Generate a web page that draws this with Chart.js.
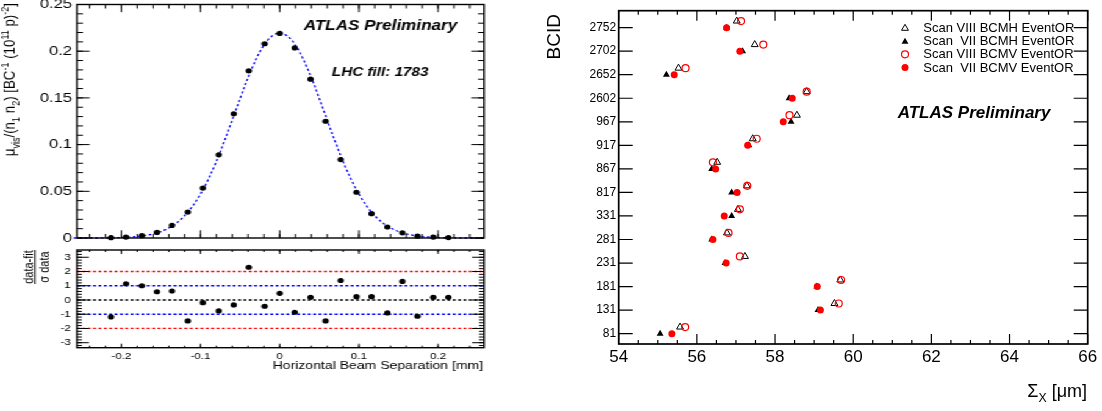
<!DOCTYPE html>
<html>
<head>
<meta charset="utf-8">
<script src="https://cdn.jsdelivr.net/npm/chart.js@4.4.0/dist/chart.umd.min.js"></script>
<style>
body { margin:0; background:#fff; width:1102px; height:411px; overflow:hidden; position:relative; }
#leftPad { position:absolute; left:0; top:0; width:411px; height:411px; transform:scaleX(1.22); transform-origin:0 0; }
canvas { position:absolute; display:block; }
</style>
</head>
<body>
<div id="leftPad">
  <canvas id="scanChart" width="411" height="245" style="left:0;top:0;width:411px;height:245px"></canvas>
  <canvas id="pullChart" width="411" height="166" style="left:0;top:245px;width:411px;height:166px"></canvas>
</div>
<canvas id="bcidChart" width="562" height="411" style="left:540px;top:0;width:562px;height:411px"></canvas>
<script>
// ---- scan curve (left) ----
var sepX  = [-0.213,-0.194,-0.174,-0.155,-0.136,-0.116,-0.097,-0.077,-0.058,-0.039,-0.019,0,
             0.019,0.039,0.058,0.077,0.097,0.116,0.136,0.155,0.174,0.194,0.213];
var muVis = [0.0003,0.001,0.0025,0.006,0.0135,0.0278,0.0535,0.089,0.133,0.179,0.208,0.219,
             0.2035,0.170,0.125,0.084,0.049,0.026,0.0118,0.0055,0.002,0.001,0.0005];
var pull  = [-1.19,1.14,1.0,0.58,0.63,-1.47,-0.19,-0.77,-0.35,2.30,-0.44,0.47,
             -0.86,0.19,-1.47,1.37,0.23,0.23,-0.91,1.30,-1.14,0.19,0.19];
// fit curve
var fitX = [-0.26,-0.24,-0.22,-0.20,-0.18,-0.16,-0.15,-0.14,-0.13,-0.12,-0.11,-0.10,-0.09,-0.08,-0.07,-0.06,-0.05,-0.04,-0.03,-0.02,-0.01,
            0,0.01,0.02,0.03,0.04,0.05,0.06,0.07,0.08,0.09,0.10,0.11,0.12,0.13,0.14,0.15,0.16,0.18,0.20,0.22,0.24,0.26];
var fitY = [0,0,0.0001,0.0005,0.0015,0.0043,0.0069,0.0108,0.0163,0.0239,0.0341,0.0471,0.0631,0.0820,0.1033,0.1262,0.1494,0.1716,0.1911,0.2064,0.2161,
            0.2195,0.2161,0.2064,0.1911,0.1716,0.1494,0.1262,0.1033,0.0820,0.0631,0.0471,0.0341,0.0239,0.0163,0.0108,0.0069,0.0043,0.0015,0.0005,0.0001,0,0];
var sepTicks  = [-0.2,-0.1,0,0.1,0.2];
var muTicks   = [0,0.05,0.1,0.15,0.2,0.25];
var pullTicks = [-3,-2,-1,0,1,2,3];
var pullLines = [2,1,0,-1,-2];

// ---- BCID widths (right) ----
var bcid   = ['81','131','181','231','281','331','817','867','917','967','2602','2652','2702','2752'];
var scan8H = [55.57,59.52,59.67,57.23,56.77,57.05,57.28,56.52,57.43,58.56,58.81,55.53,57.48,57.02];
var scan7H = [55.06,59.10,59.07,56.72,56.38,56.89,56.89,56.38,57.33,58.41,58.36,55.22,57.17,56.76];
var scan8V = [55.70,59.63,59.69,57.10,56.81,57.10,57.29,56.41,57.53,58.37,58.81,55.71,57.70,57.13];
var scan7V = [55.36,59.16,59.08,56.75,56.41,56.70,57.03,56.48,57.30,58.21,58.44,55.42,57.10,56.76];
var sigmaTicks = [54,56,58,60,62,64,66];
var legendNames = ['Scan VIII BCMH EventOR','Scan  VII BCMH EventOR','Scan VIII BCMV EventOR','Scan  VII BCMV EventOR'];

var FONT = '"Liberation Sans", Arial, Helvetica, sans-serif';
Chart.defaults.font.family = FONT;
Chart.defaults.color = '#000';

function steps(a, b, st) {  // tick mark positions
  var out = [];
  for (var v = a; v <= b + 1e-9; v += st) out.push(Math.round(v * 1000) / 1000);
  return out;
}
function noPad(s) { s.paddingLeft = 0; s.paddingRight = 0; s.paddingTop = 0; s.paddingBottom = 0; }

// ROOT-like frame with ticks pointing inwards
function frameTicks(c) {
  return {
    id: 'frameTicks',
    afterDatasetsDraw: function(chart) {
      var ctx = chart.ctx, a = chart.chartArea, xs = chart.scales.x, ys = chart.scales.y;
      ctx.save();
      ctx.strokeStyle = '#000';
      ctx.lineWidth = c.tickWidth;
      ctx.beginPath();
      function xt(list, len) {
        list.forEach(function(v) {
          var p = xs.getPixelForValue(v);
          ctx.moveTo(p, a.bottom); ctx.lineTo(p, a.bottom - len);
          ctx.moveTo(p, a.top); ctx.lineTo(p, a.top + len);
        });
      }
      function yt(list, len) {
        list.forEach(function(v) {
          var p = ys.getPixelForValue(v);
          ctx.moveTo(a.left, p); ctx.lineTo(a.left + len, p);
          ctx.moveTo(a.right, p); ctx.lineTo(a.right - len, p);
        });
      }
      xt(c.xMinor, c.xMinorLen); xt(c.xMajor, c.xMajorLen);
      yt(c.yMinor, c.yMinorLen); yt(c.yMajor, c.yMajorLen);
      ctx.stroke();
      ctx.lineWidth = c.frameWidth;
      ctx.strokeRect(a.left, a.top, a.right - a.left, a.bottom - a.top);
      ctx.restore();
    }
  };
}

// text with sub/superscripts: parts = [[text, 0 normal | 1 sub | 2 sup], ...]
function drawRich(ctx, parts, x, y, size, align) {
  var fonts = parts.map(function(p) { return (p[1] ? size * 0.68 : size) + 'px ' + FONT; });
  var widths = parts.map(function(p, i) { ctx.font = fonts[i]; return ctx.measureText(p[0]).width; });
  var total = widths.reduce(function(s, w) { return s + w; }, 0);
  var cx = align === 'right' ? x - total : (align === 'center' ? x - total / 2 : x);
  ctx.textAlign = 'left';
  parts.forEach(function(p, i) {
    ctx.font = fonts[i];
    var dy = p[1] === 1 ? size * 0.3 : (p[1] === 2 ? -size * 0.42 : 0);
    ctx.fillText(p[0], cx, y + dy);
    cx += widths[i];
  });
}

var baseOpts = {
  responsive: false, animation: false, devicePixelRatio: 1, events: [],
  plugins: { legend: { display: false }, tooltip: { enabled: false } }
};
function opts(extra) { return Object.assign({}, baseOpts, extra); }

// ======== top left: scan curve ========
var scanText = {
  id: 'scanText',
  afterDraw: function(chart) {
    var ctx = chart.ctx;
    ctx.save();
    ctx.fillStyle = '#000';
    ctx.textAlign = 'left';
    ctx.textBaseline = 'middle';
    ctx.font = 'italic bold 14px ' + FONT;
    ctx.fillText('ATLAS Preliminary', 249, 25.7);
    ctx.font = 'italic bold 12.5px ' + FONT;
    ctx.fillText('LHC fill: 1783', 272, 73);
    ctx.translate(12.3, 3);
    ctx.rotate(-Math.PI / 2);
    ctx.textBaseline = 'alphabetic';
    drawRich(ctx, [['\u03bc', 0], ['vis', 1], ['/(n', 0], ['1', 1], [' n', 0], ['2', 1], [') [BC', 0], ['-1', 2],
                   [' (10', 0], ['11', 2], [' p)', 0], ['-2', 2], [']', 0]], 0, 0, 13.3, 'right');
    ctx.restore();
  }
};

new Chart(document.getElementById('scanChart'), {
  type: 'scatter',
  data: {
    datasets: [
      { data: sepX.map(function(x, i) { return { x: x, y: muVis[i] }; }),
        pointRadius: 2.6, pointBackgroundColor: '#000', pointBorderWidth: 0, order: 0, clip: false },
      { data: fitX.map(function(x, i) { return { x: x, y: fitY[i] }; }),
        showLine: true, pointRadius: 0, borderColor: '#0000ff', borderWidth: 1.3, borderDash: [2.2, 2.2],
        cubicInterpolationMode: 'monotone', order: 1, clip: false }
    ]
  },
  options: opts({
    layout: { padding: { left: 13.1, right: 14.3, top: 4.5, bottom: 7 } },
    scales: {
      x: { type: 'linear', min: -0.256, max: 0.258,
           grid: { display: false, drawTicks: false }, border: { display: false },
           ticks: { display: false },
           afterFit: function(s) { s.height = 0; noPad(s); } },
      y: { type: 'linear', min: 0, max: 0.25,
           grid: { display: false, drawTicks: false }, border: { display: false },
           ticks: { padding: 4, autoSkip: false, font: { size: 13.5 }, callback: function(v) { return String(v); } },
           afterBuildTicks: function(s) { s.ticks = muTicks.map(function(v) { return { value: v }; }); },
           afterFit: function(s) { s.width = 50; noPad(s); } }
    }
  }),
  plugins: [frameTicks({ xMajor: sepTicks, xMinor: steps(-0.24, 0.24, 0.02), yMajor: muTicks, yMinor: steps(0, 0.25, 0.01),
                         xMajorLen: 7.7, xMinorLen: 4, yMajorLen: 10.4, yMinorLen: 4.9, tickWidth: 1, frameWidth: 1.4 }), scanText]
});

// ======== bottom left: pulls ========
var pullDeco = {
  id: 'pullDeco',
  beforeDatasetsDraw: function(chart) {
    var ctx = chart.ctx, a = chart.chartArea, ys = chart.scales.y;
    var cols = ['#ff0000', '#0000ff', '#000000', '#0000ff', '#ff0000'];
    ctx.save();
    ctx.lineWidth = 1.3;
    ctx.setLineDash([2.4, 2]);
    pullLines.forEach(function(v, i) {
      var p = ys.getPixelForValue(v);
      ctx.strokeStyle = cols[i];
      ctx.beginPath(); ctx.moveTo(a.left, p); ctx.lineTo(a.right, p); ctx.stroke();
    });
    ctx.restore();
  },
  afterDraw: function(chart) {
    var ctx = chart.ctx;
    ctx.save();
    ctx.fillStyle = '#000';
    ctx.strokeStyle = '#000';
    ctx.setLineDash([]);
    ctx.textBaseline = 'alphabetic';
    ctx.textAlign = 'right';
    ctx.font = '11.5px ' + FONT;
    ctx.fillText('Horizontal Beam Separation [mm]', 396, 124);
    ctx.translate(0, 22);
    ctx.rotate(-Math.PI / 2);
    ctx.textAlign = 'center';
    ctx.font = '11px ' + FONT;
    ctx.fillText('data-fit', 0, 26.5);
    ctx.fillText('\u03c3 data', 0, 39.5);
    ctx.lineWidth = 1;
    ctx.beginPath(); ctx.moveTo(-17, 28.7); ctx.lineTo(17, 28.7); ctx.stroke();
    ctx.restore();
  }
};

new Chart(document.getElementById('pullChart'), {
  type: 'scatter',
  data: {
    datasets: [
      { data: sepX.map(function(x, i) { return { x: x, y: pull[i] }; }),
        pointRadius: 2.6, pointBackgroundColor: '#000', pointBorderWidth: 0, clip: false }
    ]
  },
  options: opts({
    layout: { padding: { left: 13.1, right: 14.3, top: 5, bottom: 38.3 } },
    scales: {
      x: { type: 'linear', min: -0.256, max: 0.258,
           grid: { display: false, drawTicks: false }, border: { display: false },
           ticks: { padding: 3, autoSkip: false, maxRotation: 0, font: { size: 9.5 }, callback: function(v) { return String(v); } },
           afterBuildTicks: function(s) { s.ticks = sepTicks.map(function(v) { return { value: v }; }); },
           afterFit: function(s) { s.height = 25; noPad(s); } },
      y: { type: 'linear', min: -3.35, max: 3.51,
           grid: { display: false, drawTicks: false }, border: { display: false },
           ticks: { padding: 5, autoSkip: false, font: { size: 9.5 }, callback: function(v) { return String(v); } },
           afterBuildTicks: function(s) { s.ticks = pullTicks.map(function(v) { return { value: v }; }); },
           afterFit: function(s) { s.width = 50; noPad(s); } }
    }
  }),
  plugins: [pullDeco, frameTicks({ xMajor: sepTicks, xMinor: steps(-0.24, 0.24, 0.02), yMajor: pullTicks, yMinor: steps(-3.2, 3.4, 0.2),
                                   xMajorLen: 4, xMinorLen: 2, yMajorLen: 9.8, yMinorLen: 4, tickWidth: 1, frameWidth: 1.4 })]
});

// ======== right: Sigma_X per BCID ========
function marker(ctx, style, x, y, r) {
  ctx.beginPath();
  if (style === 'triangle') {
    for (var k = 0; k < 3; k++) {
      var ang = k * 2 * Math.PI / 3;
      var px = x + Math.sin(ang) * r, py = y - Math.cos(ang) * r;
      if (k === 0) ctx.moveTo(px, py); else ctx.lineTo(px, py);
    }
    ctx.closePath();
  } else {
    ctx.arc(x, y, r, 0, 2 * Math.PI);
  }
}

var rightSets = [
  { data: scan8H, dy: 0.28, style: 'triangle', r: 4, fill: 'rgba(0,0,0,0)', line: '#000', bw: 1, order: 3 },
  { data: scan7H, dy: 0, style: 'triangle', r: 4, fill: '#000', line: '#000', bw: 0, order: 2 },
  { data: scan8V, dy: 0.28, style: 'circle', r: 3.5, fill: 'rgba(0,0,0,0)', line: '#ff0000', bw: 1.2, order: 1 },
  { data: scan7V, dy: 0, style: 'circle', r: 3.5, fill: '#ff0000', line: '#ff0000', bw: 0, order: 0 }
];

var bcidText = {
  id: 'bcidText',
  afterDraw: function(chart) {
    var ctx = chart.ctx;
    ctx.save();
    ctx.fillStyle = '#000';
    ctx.textBaseline = 'middle';
    ctx.textAlign = 'left';
    // legend
    var rows = [27.7, 41.2, 54.3, 67.5];
    rightSets.forEach(function(s, i) {
      marker(ctx, s.style, 365, rows[i] + (s.style === 'triangle' ? 0.6 : 0), s.r);
      ctx.fillStyle = s.fill; ctx.fill();
      if (s.bw > 0) { ctx.strokeStyle = s.line; ctx.lineWidth = s.bw; ctx.stroke(); }
      ctx.fillStyle = '#000';
      ctx.font = '13px ' + FONT;
      ctx.fillText(legendNames[i], 383.3, rows[i] + 0.5);
    });
    ctx.font = 'italic bold 17px ' + FONT;
    ctx.fillText('ATLAS Preliminary', 357.7, 113);
    ctx.textBaseline = 'alphabetic';
    drawRich(ctx, [['\u03a3', 0], ['X', 1], [' [\u03bcm]', 0]], 547, 397, 18, 'right');
    ctx.translate(20, 14);
    ctx.rotate(-Math.PI / 2);
    ctx.textAlign = 'right';
    ctx.font = '19px ' + FONT;
    ctx.fillText('BCID', 0, 0);
    ctx.restore();
  }
};

new Chart(document.getElementById('bcidChart'), {
  type: 'scatter',
  data: {
    datasets: rightSets.map(function(s, i) {
      return {
        label: legendNames[i],
        data: s.data.map(function(v, k) { return { x: v, y: k + s.dy }; }),
        pointStyle: s.style, pointRadius: s.r,
        pointBackgroundColor: s.fill, pointBorderColor: s.line, pointBorderWidth: s.bw,
        order: s.order, clip: false
      };
    })
  },
  options: opts({
    layout: { padding: { left: 28.7, right: 14.3, top: 10.7, bottom: 37 } },
    scales: {
      x: { type: 'linear', min: 54, max: 66,
           grid: { display: false, drawTicks: false }, border: { display: false },
           ticks: { padding: 3, autoSkip: false, maxRotation: 0, font: { size: 17 }, callback: function(v) { return String(v); } },
           afterBuildTicks: function(s) { s.ticks = sigmaTicks.map(function(v) { return { value: v }; }); },
           afterFit: function(s) { s.height = 30; noPad(s); } },
      y: { type: 'linear', min: -0.44, max: 13.72,
           grid: { display: false, drawTicks: false }, border: { display: false },
           ticks: { padding: 2.5, autoSkip: false, font: { size: 12 }, callback: function(v) { return bcid[v]; } },
           afterBuildTicks: function(s) { s.ticks = bcid.map(function(b, k) { return { value: k }; }); },
           afterFit: function(s) { s.width = 50; noPad(s); } }
    }
  }),
  plugins: [frameTicks({ xMajor: sigmaTicks, xMinor: steps(54, 66, 0.5), yMajor: bcid.map(function(b, k) { return k; }), yMinor: [],
                         xMajorLen: 10, xMinorLen: 4, yMajorLen: 14, yMinorLen: 0, tickWidth: 1.2, frameWidth: 1.7 }), bcidText]
});
</script>
</body>
</html>
